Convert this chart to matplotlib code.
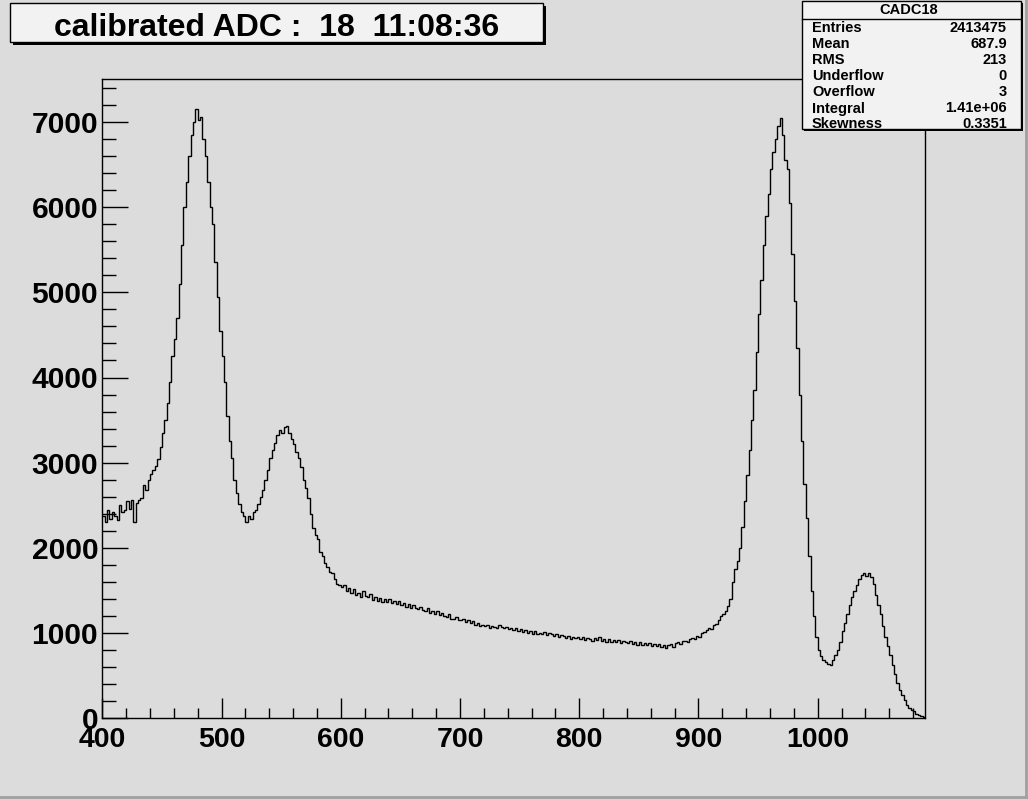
import matplotlib
matplotlib.use("Agg")
import matplotlib.pyplot as plt
from matplotlib.patches import Rectangle
from matplotlib.lines import Line2D
from matplotlib.ticker import MultipleLocator
import numpy as np

# ---------------- data ----------------
x_start = 400
bin_width = 2
counts_400_449 = [2380, 2300, 2450, 2340, 2420, 2380, 2330, 2500, 2420, 2440,
                  2550, 2460, 2560, 2300, 2530, 2560, 2590, 2740, 2680, 2800,
                  2870, 2920, 2960, 3040, 3180]
counts_450_499 = [3350, 3500, 3700, 3950, 4250, 4450, 4700, 5100, 5550, 6000,
                  6300, 6600, 6850, 7000, 7150, 7020, 7060, 6800, 6600, 6300,
                  6000, 5800, 5350, 4950, 4550]
counts_500_549 = [4250, 3950, 3550, 3250, 3050, 2800, 2650, 2520, 2420, 2370,
                  2300, 2380, 2340, 2420, 2450, 2520, 2600, 2680, 2800, 2920,
                  3050, 3150, 3230, 3330, 3380]
counts_550_599 = [3350, 3420, 3430, 3350, 3280, 3220, 3120, 3050, 2950, 2800,
                  2700, 2580, 2400, 2230, 2150, 2100, 1950, 1900, 1820, 1780,
                  1720, 1700, 1640, 1580, 1570]
counts_600_699 = [1540, 1560, 1490, 1530, 1470, 1520, 1450, 1470, 1420, 1490,
                  1440, 1420, 1460, 1390, 1420, 1380, 1410, 1370, 1400, 1360,
                  1395, 1350, 1380, 1340, 1375, 1330, 1355, 1310, 1340, 1290,
                  1330, 1300, 1280, 1310, 1270, 1260, 1295, 1240, 1265, 1230,
                  1260, 1210, 1235, 1200, 1190, 1220, 1170, 1165, 1190, 1150]
counts_700_799 = [1155, 1170, 1130, 1150, 1115, 1140, 1100, 1120, 1080, 1100,
                  1080, 1095, 1060, 1085, 1070, 1055, 1090, 1070, 1055, 1075,
                  1045, 1065, 1035, 1055, 1025, 1045, 1015, 1040, 1005, 1025,
                  995, 1020, 985, 1005, 990, 1015, 980, 1000, 985, 965,
                  990, 955, 980, 970, 945, 965, 935, 960, 940, 955]
counts_800_899 = [930, 950, 920, 945, 925, 910, 940, 915, 950, 905,
                  930, 900, 925, 895, 915, 890, 915, 885, 905, 890,
                  880, 905, 875, 895, 865, 890, 860, 880, 855, 880,
                  850, 870, 845, 870, 840, 860, 825, 855, 870, 840,
                  880, 890, 870, 905, 910, 890, 925, 940, 925, 965]
counts_900_999 = [960, 1000, 1010, 1040, 1060, 1050, 1100, 1110, 1150, 1200,
                  1220, 1260, 1320, 1400, 1600, 1750, 1850, 2000, 2250, 2550,
                  2850, 3150, 3500, 3850, 4300, 4750, 5150, 5550, 5900, 6150,
                  6450, 6650, 6800, 6950, 7050, 6850, 6550, 6450, 6050, 5450,
                  4900, 4350, 3800, 3250, 2750, 2350, 1900, 1500, 1200, 950]
counts_1000_1090 = [800, 730, 690, 660, 640, 620, 680, 740, 800, 900,
                    1020, 1120, 1230, 1330, 1420, 1500, 1560, 1640, 1680, 1710,
                    1670, 1700, 1660, 1580, 1450, 1330, 1220, 1080, 950, 850,
                    740, 620, 520, 420, 330, 270, 210, 160, 120, 100,
                    80, 55, 35, 25, 10]

title_text = "calibrated ADC :  18  11:08:36"
stats_name = "CADC18"
stats_labels = ["Entries", "Mean", "RMS", "Underflow", "Overflow", "Integral", "Skewness"]
stats_values = ["2413475", "687.9", "213", "0", "3", "1.41e+06", "0.3351"]

x_range = (400, 1090)
y_range = (0, 7500)

counts = np.array(counts_400_449 + counts_450_499 + counts_500_549 + counts_550_599
                  + counts_600_699 + counts_700_799 + counts_800_899 + counts_900_999
                  + counts_1000_1090, dtype=float)
edges = x_start + bin_width * np.arange(len(counts) + 1)

# ---------------- figure ----------------
W, H = 1028, 799
BG = "#dcdcdc"
plt.rcParams["font.family"] = ["Liberation Sans", "DejaVu Sans"]
plt.rcParams["font.weight"] = "bold"

fig = plt.figure(figsize=(W / 100, H / 100), dpi=100, facecolor=BG)

def fx(px):
    return px / W

def fy(py):
    return 1 - py / H

ax = fig.add_axes([fx(102.3), fy(718.3), fx(925) - fx(102.3), fy(79.3) - fy(718.3)])
ax.set_facecolor(BG)
ax.stairs(counts, edges, color="black", lw=1.0, baseline=None)
ax.set_xlim(*x_range)
ax.set_ylim(*y_range)

for s in ax.spines.values():
    s.set_color("black")
    s.set_linewidth(1.0)

ax.xaxis.set_major_locator(MultipleLocator(100))
ax.xaxis.set_minor_locator(MultipleLocator(20))
ax.yaxis.set_major_locator(MultipleLocator(1000))
ax.yaxis.set_minor_locator(MultipleLocator(200))
ax.tick_params(axis="x", which="major", direction="in", length=14.4, width=1.0,
               labelsize=20.5, pad=6.5, top=False)
ax.tick_params(axis="x", which="minor", direction="in", length=7.2, width=1.0, top=False)
ax.tick_params(axis="y", which="major", direction="in", length=18.7, width=1.0,
               labelsize=21.6, pad=3, right=False)
ax.tick_params(axis="y", which="minor", direction="in", length=10, width=1.0, right=False)
for lab in ax.get_xticklabels() + ax.get_yticklabels():
    lab.set_fontweight("bold")

# ---------------- boxes ----------------
def box(x0, y0, x1, y1, shadow=3, face="#f2f2f2"):
    fig.patches.append(Rectangle((fx(x0 + shadow), fy(y1 + shadow)),
                                 fx(x1) - fx(x0), fy(y0) - fy(y1),
                                 transform=fig.transFigure, facecolor="black",
                                 edgecolor="none", zorder=5))
    fig.patches.append(Rectangle((fx(x0), fy(y1)), fx(x1) - fx(x0), fy(y0) - fy(y1),
                                 transform=fig.transFigure, facecolor=face,
                                 edgecolor="black", lw=1.0, zorder=6))

# title
box(10, 3, 543, 42)
fig.text(fx(276.5), fy(28.5), title_text, ha="center", va="center", fontsize=23,
         fontweight="bold", zorder=7)

# stats
box(802, 1, 1021, 129, shadow=2)
fig.lines.append(Line2D([fx(802), fx(1021)], [fy(19), fy(19)], transform=fig.transFigure,
                        color="black", lw=1.0, zorder=7))
fig.text(fx(909), fy(10.5), stats_name, ha="center", va="center", fontsize=10.5,
         fontweight="bold", zorder=7)
for i, (lab, val) in enumerate(zip(stats_labels, stats_values)):
    yy = 28.5 + 16 * i
    fig.text(fx(812), fy(yy), lab, ha="left", va="center", fontsize=10.5,
             fontweight="bold", zorder=7)
    fig.text(fx(1007), fy(yy), val, ha="right", va="center", fontsize=10.5,
             fontweight="bold", zorder=7)

# ---------------- canvas bevel ----------------
fig.lines.append(Line2D([fx(1026), fx(1026)], [fy(0), fy(797)], transform=fig.transFigure,
                        color="#a0a0a0", lw=2.0, zorder=8))
fig.lines.append(Line2D([fx(0), fx(1026)], [fy(797), fy(797)], transform=fig.transFigure,
                        color="#a0a0a0", lw=2.0, zorder=8))

fig.savefig("out.png", dpi=100, facecolor=BG)
